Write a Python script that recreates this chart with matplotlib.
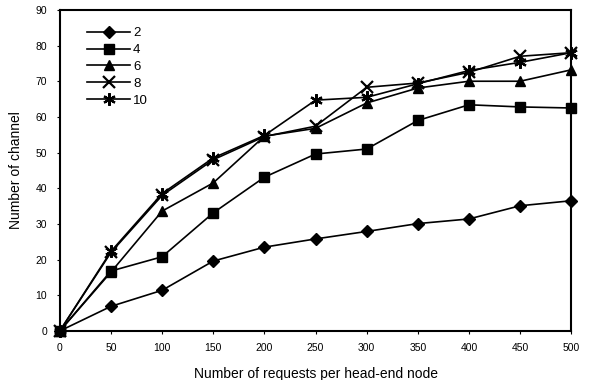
import matplotlib.pyplot as plt

plt.rcParams['font.family'] = ['Liberation Sans', 'DejaVu Sans']

# requests per head-end node
requests = [0, 50, 100, 150, 200, 250, 300, 350, 400, 450, 500]

# number of channels for each case
ch_2 = [0, 6.9, 11.4, 19.6, 23.5, 25.8, 27.9, 30.1, 31.4, 35.1, 36.5]
ch_4 = [0, 16.8, 20.8, 33.1, 43.1, 49.6, 51.0, 59.0, 63.4, 62.8, 62.5]
ch_6 = [0, 16.5, 33.6, 41.5, 54.6, 56.8, 63.9, 68.1, 70.0, 70.0, 73.2]
ch_8 = [0, 22.0, 38.0, 48.0, 54.5, 57.4, 68.3, 69.5, 72.5, 77.0, 78.0]
ch_10 = [0, 22.3, 38.5, 48.5, 54.8, 64.7, 65.5, 69.3, 73.0, 75.3, 78.0]

labels = ['2', '4', '6', '8', '10']
series = [ch_2, ch_4, ch_6, ch_8, ch_10]
markers = ['D', 's', '^', 'x', (6, 2, 0)]
msizes = [6, 7.5, 7, 8, 9]

fig = plt.figure(figsize=(5.92, 3.80), dpi=100)
ax = fig.add_axes([0.101, 0.129, 0.864, 0.845])

for vals, lab, mk, ms in zip(series, labels, markers, msizes):
    ax.plot(requests, vals, color='black', lw=1.2, marker=mk, ms=ms,
            mew=1.6 if mk in ('x', (6, 2, 0)) else 1.0,
            label=lab, clip_on=False, zorder=3)

ax.set_xlim(0, 500)
ax.set_ylim(0, 90)
ax.set_xticks(range(0, 501, 50))
ax.set_yticks(range(0, 91, 10))
ax.tick_params(labelsize=7.5, length=2, width=0.8, pad=7)

for sp in ax.spines.values():
    sp.set_linewidth(1.5)

ax.set_xlabel('Number of requests per head-end node', fontsize=10, labelpad=10)
ax.set_ylabel('Number of channel', fontsize=10, labelpad=9)

leg = ax.legend(loc='upper left', bbox_to_anchor=(0.035, 0.975), frameon=False,
                fontsize=9.5, handlelength=3.3, handletextpad=0.2,
                labelspacing=0.35, borderaxespad=0.3)

fig.savefig('out.png', dpi=100)
